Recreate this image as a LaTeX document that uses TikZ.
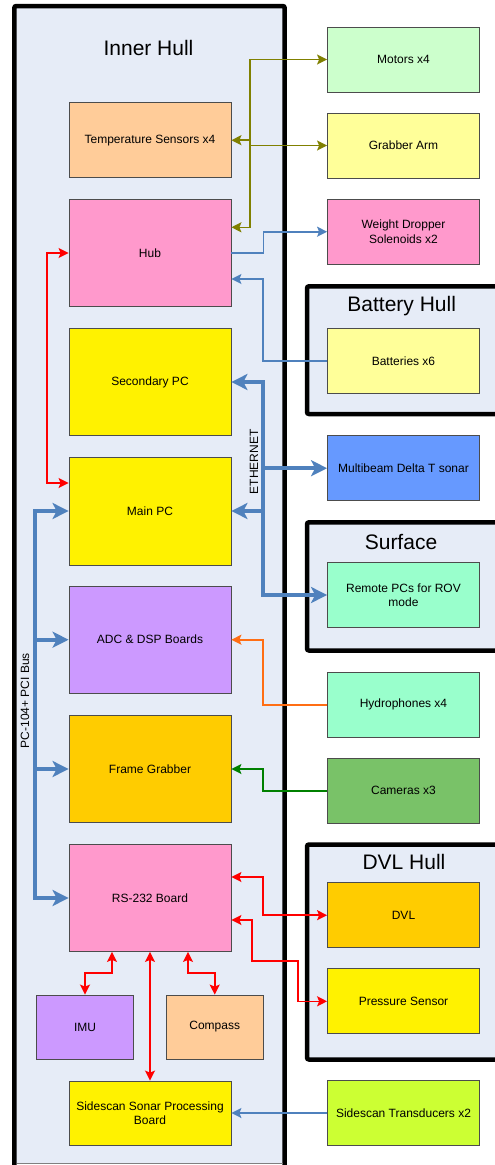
\documentclass[tikz,border=0pt]{standalone}
\usepackage{fontspec}
\setmainfont{Liberation Sans}
\usetikzlibrary{arrows.meta}

\definecolor{hullfill}{RGB}{230,236,247}
\definecolor{peach}{RGB}{255,204,153}
\definecolor{rose}{RGB}{255,153,204}
\definecolor{lilac}{RGB}{204,153,255}
\definecolor{amber}{RGB}{255,204,0}
\definecolor{mint}{RGB}{204,255,204}
\definecolor{paleyellow}{RGB}{255,255,153}
\definecolor{aqua}{RGB}{153,255,204}
\definecolor{sky}{RGB}{102,153,255}
\definecolor{leaf}{RGB}{121,194,104}
\definecolor{lime}{RGB}{204,255,51}
\definecolor{busblue}{RGB}{79,129,189}
\definecolor{olivec}{RGB}{128,128,0}
\definecolor{orangec}{RGB}{255,110,20}
\definecolor{greenc}{RGB}{0,128,0}

\begin{document}
\begin{tikzpicture}[x=1pt,y=-1pt,
  box/.style={draw=black!70,line width=.8pt,font=\fontsize{12}{14.5}\selectfont,align=center,inner sep=0pt},
  lbox/.style={box,minimum width=162pt,minimum height=107pt},
  rbox/.style={box,minimum width=152pt,minimum height=65pt},
  hull/.style={line width=4.5pt,rounded corners=2pt},
  title/.style={font=\fontsize{21}{24}\selectfont},
  tag/.style={rotate=90,font=\fontsize{12}{14}\selectfont},
  wire/.style={line width=1.6pt,-{Stealth[length=10pt,width=10pt,inset=2pt]}},
  wboth/.style={line width=1.6pt,{Stealth[length=10pt,width=10pt,inset=2pt]}-{Stealth[length=10pt,width=10pt,inset=2pt]}},
  bus/.style={line width=4pt,busblue,-{Stealth[length=16pt,width=16pt,inset=4pt]}},
  busboth/.style={bus,{Stealth[length=16pt,width=16pt,inset=4pt]}-{Stealth[length=16pt,width=16pt,inset=4pt]}}]
\useasboundingbox (0,0) rectangle (495,1165);
% hulls
\fill[hullfill] (14.3,6) rectangle (284.7,1163.5);
\draw[hull] (14.3,1175) -- (14.3,6) -- (284.7,6) -- (284.7,1175);
\draw[black!50,line width=1pt] (16.5,1163.5) -- (282.5,1163.5);
\draw[hull,fill=hullfill] (307,286.3) rectangle (515,414);
\draw[hull,fill=hullfill] (307,522.3) rectangle (515,650.5);
\draw[hull,fill=hullfill] (307,844.5) rectangle (515,1059.5);
\node[title] (inner) at (148.5,48) {Inner Hull};
\node[title] (battery) at (401.7,305.7) {Battery Hull};
\node[title] (surface) at (401,542.3) {Surface};
\node[title] (dvlhull) at (404,862.3) {DVL Hull};
% inner hull boards
\node[lbox,fill=peach,minimum height=75pt] (temp) at (150,140.2) {Temperature Sensors x4};
\node[lbox,fill=rose] (hub) at (150,253) {Hub};
\node[lbox,fill=yellow] (secpc) at (150,382) {Secondary PC};
\node[lbox,fill=yellow,minimum height=108pt] (mainpc) at (150,511) {Main PC};
\node[lbox,fill=lilac] (adc) at (150,639.7) {ADC \& DSP Boards};
\node[lbox,fill=amber] (grabber) at (150,769) {Frame Grabber};
\node[lbox,fill=rose] (rs) at (150,898) {RS-232 Board};
\node[box,fill=lilac,minimum width=97pt,minimum height=64pt] (imu) at (85,1027) {IMU};
\node[box,fill=peach,minimum width=97pt,minimum height=64pt] (compass) at (214.7,1027) {Compass};
\node[lbox,fill=yellow,minimum height=64pt] (sssp) at (150,1113) {Sidescan Sonar Processing\\Board};
% outside units
\node[rbox,fill=mint] (motors) at (403.5,59.5) {Motors x4};
\node[rbox,fill=paleyellow] (arm) at (403.5,145.5) {Grabber Arm};
\node[rbox,fill=rose] (weight) at (403.5,231.7) {Weight Dropper\\Solenoids x2};
\node[rbox,fill=paleyellow] (batt) at (403.5,360.8) {Batteries x6};
\node[rbox,fill=sky] (sonar) at (403.5,468.2) {Multibeam Delta T sonar};
\node[rbox,fill=aqua] (remote) at (403.5,595) {Remote PCs for ROV\\mode};
\node[rbox,fill=aqua] (hydro) at (403.5,704.8) {Hydrophones x4};
\node[rbox,fill=leaf] (cameras) at (403.5,790.7) {Cameras x3};
\node[rbox,fill=amber] (dvl) at (403.5,915.2) {DVL};
\node[rbox,fill=yellow] (pressure) at (403.5,1001.3) {Pressure Sensor};
\node[rbox,fill=lime] (trans) at (403.5,1113) {Sidescan Transducers x2};
% hub links
\coordinate (ol) at (250,227.3); \coordinate (bj) at (263,279); \coordinate (rj) at (47,483);
\draw[wboth,olivec] (motors.west) -| (ol) -- (hub.east |- ol);
\draw[wire,olivec] (ol |- arm) -- (arm.west); \draw[wire,olivec] (ol |- temp) -- (temp.east);
\draw[wire,busblue] (hub.east) -- ++(32,0) |- (weight.west);
\draw[wire,busblue] (batt.west) -| (bj) -- (hub.east |- bj);
\draw[wboth,red] (hub.west) -| (rj) -- (mainpc.west |- rj);
% ethernet
\coordinate (eth) at (263,468.2);
\draw[busboth] (secpc.east) -| (eth) |- (remote.west);
\draw[bus] (eth) -- (sonar.west); \draw[bus] (eth |- mainpc) -- (mainpc.east);
\node[tag] (ethtag) at (254,461.7) {ETHERNET};
% pci bus
\coordinate (pci) at (35,511);
\draw[busboth] (rs.west) -| (pci) -- (mainpc.west);
\draw[bus] (pci |- adc) -- (adc.west); \draw[bus] (pci |- grabber) -- (grabber.west);
\node[tag] (pcitag) at (25,700.5) {PC-104+ PCI Bus};
% sensors
\draw[wire,orangec] (hydro.west) -- ++(-64,0) |- (adc.east);
\draw[wire,greenc] (cameras.west) -- ++(-64,0) |- (grabber.east);
\coordinate (dj) at (263,877); \coordinate (pj) at (252,920);
\draw[wboth,red] (rs.east |- dj) -- (dj) |- (dvl.west);
\draw[wboth,red] (rs.east |- pj) -- (pj) |- (298,961) |- (pressure.west);
\coordinate (ij) at (112,973); \coordinate (cj) at (188,973);
\draw[wboth,red] (rs.south -| ij) -- (ij) -| (imu.north);
\draw[wboth,red] (rs.south -| cj) -- (cj) -| (compass.north);
\draw[wboth,red] (rs.south) -- (sssp.north);
\draw[wire,busblue] (trans.west) -- (sssp.east);
\end{tikzpicture}
\end{document}
